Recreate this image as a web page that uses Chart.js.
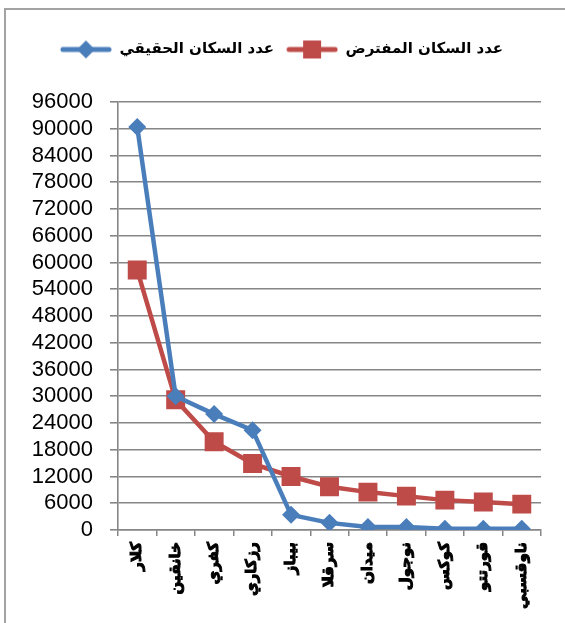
<!DOCTYPE html>
<html>
<head>
<meta charset="utf-8">
<script src="https://cdn.jsdelivr.net/npm/chart.js@4/dist/chart.umd.min.js"></script>
<style>
html,body{margin:0;padding:0;background:#fff;}
#wrap{position:relative;width:565px;height:623px;overflow:hidden;}
#frame{position:absolute;left:4px;top:8px;width:700px;height:800px;border-left:2px solid #a3a3a3;border-top:2px solid #a3a3a3;box-sizing:border-box;pointer-events:none;}
canvas{position:absolute;left:0;top:0;}
</style>
</head>
<body>
<div id="wrap">
<canvas id="c" width="565" height="623"></canvas>
<div id="frame"></div>
</div>
<script>
const categories = ['كلار','خانقين','كفري','رزكاري','بيباز','سرقلا','ميدان','نوجول','كوكس','قورتتو','ناوقسبي'];
const realPopulation = [90400, 30000, 26000, 22400, 3400, 1600, 700, 700, 300, 300, 300];
const assumedPopulation = [58300, 29200, 19800, 14900, 12000, 9700, 8500, 7600, 6700, 6300, 5800];
const seriesNames = ['عدد السكان الحقيقي','عدد السكان المفترض'];
const yTicks = [0,6000,12000,18000,24000,30000,36000,42000,48000,54000,60000,66000,72000,78000,84000,90000,96000];

const BLUE = '#4a7ebb';
const RED = '#be4b48';

function legendIcon(color, shape){
  const c = document.createElement('canvas');
  c.width = 52; c.height = 20;
  const g = c.getContext('2d');
  g.strokeStyle = color; g.lineWidth = 5; g.lineCap = 'round';
  g.beginPath(); g.moveTo(3,10); g.lineTo(49,10); g.stroke();
  g.fillStyle = color;
  if(shape==='diamond'){
    g.beginPath(); g.moveTo(26,1); g.lineTo(35,10); g.lineTo(26,19); g.lineTo(17,10); g.closePath(); g.fill();
  } else {
    g.fillRect(17,1,18,18);
  }
  return c;
}
const icons = [legendIcon(BLUE,'diamond'), legendIcon(RED,'square')];

const legendFix = {
  id:'legendFix',
  beforeLayout(chart){
    const lg = chart.legend;
    if(lg && !lg._patched){
      const f = lg.fit.bind(lg);
      lg.fit = function(){ f(); this.height = 72; };
      lg._patched = true;
    }
  }
};

new Chart(document.getElementById('c'), {
  type:'line',
  data:{
    labels: categories,
    datasets:[
      {label: seriesNames[0], data: realPopulation, borderColor: BLUE, backgroundColor: BLUE,
       borderWidth: 4.5, pointStyle:'rectRot', pointRadius: 9, pointHoverRadius: 9, pointBorderWidth:0, tension:0, order:1},
      {label: seriesNames[1], data: assumedPopulation, borderColor: RED, backgroundColor: RED,
       borderWidth: 4.5, pointStyle:'rect', pointRadius: 13.4, pointHoverRadius: 13.4, pointBorderWidth:0, tension:0, order:2}
    ]
  },
  options:{
    responsive:false,
    animation:false,
    layout:{padding:{left:22,right:24,top:30,bottom:8}},
    plugins:{
      tooltip:{enabled:false},
      legend:{
        position:'top',
        labels:{
          usePointStyle:true,
          pointStyleWidth:52,
          padding:12,
          color:'#000',
          font:{family:'DejaVu Sans', size:15, weight:'bold'},
          generateLabels(chart){
            return chart.data.datasets.map((ds,i)=>({
              text: ds.label, pointStyle: icons[i], fillStyle: ds.borderColor,
              strokeStyle: ds.borderColor, lineWidth:0, hidden:false, datasetIndex:i, fontColor:'#000'
            }));
          }
        }
      }
    },
    scales:{
      x:{
        offset:true,
        afterFit(s){ s.height = 85; },
        grid:{display:true, drawOnChartArea:false, drawTicks:true, tickLength:6, color:'#868686', lineWidth:1.5, offset:true},
        border:{display:true, color:'#868686', width:1.5},
        ticks:{minRotation:90, maxRotation:90, autoSkip:false, padding:6, color:'#000',
               textStrokeColor:'#000', textStrokeWidth:1,
               font:{family:'DejaVu Sans', size:15, weight:'bold'}}
      },
      y:{
        min:0, max:96000,
        afterFit(s){ s.width = 96; },
        afterBuildTicks(s){ s.ticks = yTicks.map(v=>({value:v})); },
        grid:{color:'#868686', lineWidth:1.6, tickLength:8, drawTicks:true},
        border:{display:true, color:'#868686', width:1.6},
        ticks:{autoSkip:false, padding:17, color:'#000', font:{family:'Liberation Sans', size:22},
               callback:(v)=>String(v)}
      }
    }
  },
  plugins:[legendFix]
});
</script>
</body>
</html>
